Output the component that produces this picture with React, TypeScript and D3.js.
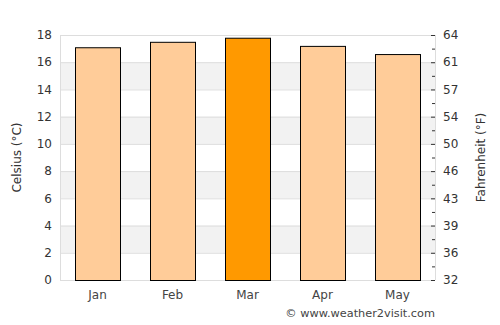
import React from "react";
import * as d3 from "d3";

const months = ["Jan", "Feb", "Mar", "Apr", "May"];
const celsius = [17.1, 17.5, 17.8, 17.2, 16.6];
const highlight = ["Mar"];
const cTicks = [0, 2, 4, 6, 8, 10, 12, 14, 16, 18];
const fLabels = ["32", "36", "39", "43", "46", "50", "54", "57", "61", "64"];

const W = 500, H = 325;
const left = 60, right = 435, top = 35, bottom = 280;
const font = "DejaVu Sans, sans-serif";

export default function App() {
  const x = d3.scaleBand<string>().domain(months).range([left, right]).paddingInner(0.4).paddingOuter(0.2);
  const y = d3.scaleLinear().domain([0, 18]).range([bottom, top]);
  const bands = cTicks.slice(0, -1).filter((t) => t % 4 === 2);
  const minor = d3.range(1, 18, 2);
  return (
    <svg width={W} height={H} style={{ position: "absolute", left: 0, top: 0, fontFamily: font }}>
      <rect x={0} y={0} width={W} height={H} fill="#fff" />
      {bands.map((t) => (
        <rect key={"b" + t} x={left} y={y(t + 2)} width={right - left} height={y(t) - y(t + 2)} fill="#f2f2f2" />
      ))}
      {cTicks.map((t) => (
        <line key={"g" + t} x1={left} x2={right} y1={y(t) + 0.5} y2={y(t) + 0.5} stroke="#dddddd" strokeWidth={1} />
      ))}
      <line x1={left + 0.5} x2={left + 0.5} y1={top} y2={bottom} stroke="#dddddd" />
      <line x1={right + 0.5} x2={right + 0.5} y1={top} y2={bottom} stroke="#dddddd" />
      {months.map((m, i) => (
        <rect
          key={m}
          x={x(m)! + 0.5}
          y={y(celsius[i]) + 0.5}
          width={x.bandwidth()}
          height={y(0) - y(celsius[i])}
          fill={highlight.includes(m) ? "#ff9900" : "#ffcc99"}
          stroke="#000"
          strokeWidth={1}
        />
      ))}
      {cTicks.map((t) => (
        <text key={"l" + t} x={52} y={y(t)} dy="0.35em" textAnchor="end" fontSize={12} fill="#333">{t}</text>
      ))}
      {cTicks.map((t, i) => (
        <g key={"r" + t}>
          <line x1={right - 4} x2={right} y1={y(t) + 0.5} y2={y(t) + 0.5} stroke="#333" />
          <text x={443} y={y(t)} dy="0.35em" textAnchor="start" fontSize={12} fill="#333">{fLabels[i]}</text>
        </g>
      ))}
      {minor.map((t) => (
        <line key={"m" + t} x1={right - 3} x2={right} y1={y(t) + 0.5} y2={y(t) + 0.5} stroke="#333" />
      ))}
      {months.map((m) => (
        <text key={"x" + m} x={x(m)! + x.bandwidth() / 2} y={299} textAnchor="middle" fontSize={12} fill="#444">{m}</text>
      ))}
      <text transform={`translate(21,${(top + bottom) / 2}) rotate(-90)`} textAnchor="middle" fontSize={12} fill="#333">Celsius (°C)</text>
      <text transform={`translate(485,${(top + bottom) / 2}) rotate(-90)`} textAnchor="middle" fontSize={12} fill="#333">Fahrenheit (°F)</text>
      <text x={435} y={317} textAnchor="end" fontSize={11.3} fill="#444">© www.weather2visit.com</text>
    </svg>
  );
}
